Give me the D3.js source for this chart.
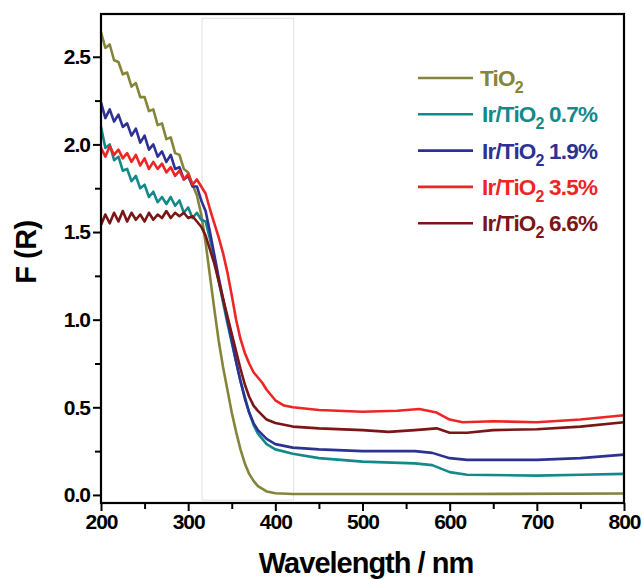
<!DOCTYPE html>
<html>
<head>
<meta charset="utf-8">
<script src="https://cdn.jsdelivr.net/npm/d3@7"></script>
<style>
  body { margin: 0; background: #fff; }
  text { font-family: "Liberation Sans", Arial, sans-serif; font-weight: bold; }
</style>
</head>
<body>
<svg id="chart" width="642" height="579"></svg>
<script>
// wavelength (nm) / F(R) values
var tio2 = [[200,2.64],[205,2.55],[210,2.57],[215,2.48],[220,2.47],[225,2.40],[230,2.41],[235,2.33],[240,2.35],[245,2.27],[250,2.27],[255,2.19],[260,2.20],[265,2.11],[270,2.12],[275,2.03],[280,2.04],[285,1.95],[290,1.94],[295,1.86],[300,1.84],[305,1.77],[310,1.71],[315,1.60],[320,1.44],[325,1.25],[330,1.06],[335,0.88],[340,0.73],[345,0.60],[350,0.47],[355,0.36],[360,0.26],[365,0.18],[370,0.12],[375,0.08],[380,0.05],[390,0.02],[400,0.01],[420,0.005],[600,0.005],[800,0.008]];
var ir07 = [[200,2.10],[205,1.98],[210,2.00],[215,1.91],[220,1.93],[225,1.85],[230,1.86],[235,1.79],[240,1.82],[245,1.75],[250,1.77],[255,1.70],[260,1.73],[265,1.67],[270,1.70],[275,1.66],[280,1.70],[285,1.65],[290,1.68],[295,1.61],[300,1.64],[305,1.58],[310,1.61],[315,1.57],[320,1.56],[325,1.46],[330,1.35],[335,1.22],[340,1.10],[345,0.98],[350,0.87],[355,0.76],[360,0.65],[365,0.56],[370,0.47],[375,0.40],[380,0.35],[390,0.29],[400,0.26],[420,0.235],[450,0.21],[500,0.19],[560,0.18],[580,0.17],[600,0.13],[620,0.115],[700,0.11],[750,0.115],[800,0.12]];
var ir19 = [[200,2.24],[205,2.15],[210,2.20],[215,2.13],[220,2.17],[225,2.10],[230,2.12],[235,2.05],[240,2.09],[245,2.01],[250,2.05],[255,1.97],[260,2.00],[265,1.93],[270,1.96],[275,1.90],[280,1.94],[285,1.86],[290,1.87],[295,1.80],[300,1.82],[305,1.76],[310,1.76],[315,1.68],[320,1.62],[325,1.50],[330,1.37],[335,1.24],[340,1.12],[345,1.00],[350,0.88],[355,0.76],[360,0.65],[365,0.55],[370,0.47],[375,0.41],[380,0.37],[390,0.32],[400,0.29],[420,0.27],[450,0.26],[500,0.25],[560,0.25],[580,0.24],[600,0.21],[620,0.20],[700,0.20],[750,0.21],[800,0.23]];
var ir35 = [[200,1.98],[205,1.93],[210,1.99],[215,1.94],[220,1.97],[225,1.92],[230,1.95],[235,1.90],[240,1.94],[245,1.88],[250,1.92],[255,1.86],[260,1.90],[265,1.86],[270,1.89],[275,1.84],[280,1.87],[285,1.82],[290,1.85],[295,1.80],[300,1.83],[305,1.77],[310,1.80],[315,1.76],[320,1.72],[325,1.63],[330,1.55],[335,1.47],[340,1.38],[345,1.27],[350,1.14],[355,1.00],[360,0.89],[365,0.81],[370,0.75],[375,0.70],[380,0.67],[385,0.64],[390,0.60],[400,0.54],[410,0.51],[420,0.50],[450,0.485],[500,0.475],[540,0.48],[565,0.49],[585,0.47],[600,0.43],[615,0.415],[650,0.42],[700,0.415],[750,0.43],[800,0.455]];
var ir66 = [[200,1.54],[205,1.60],[210,1.55],[215,1.61],[220,1.56],[225,1.62],[230,1.56],[235,1.61],[240,1.57],[245,1.60],[250,1.56],[255,1.61],[260,1.57],[265,1.60],[270,1.58],[275,1.62],[280,1.58],[285,1.61],[290,1.59],[295,1.61],[300,1.58],[305,1.59],[310,1.56],[315,1.53],[320,1.48],[325,1.40],[330,1.32],[335,1.22],[340,1.12],[345,1.02],[350,0.92],[355,0.82],[360,0.72],[365,0.63],[370,0.56],[375,0.51],[380,0.48],[390,0.43],[400,0.41],[420,0.39],[450,0.38],[500,0.37],[530,0.36],[560,0.37],[585,0.38],[600,0.355],[620,0.355],[650,0.37],[700,0.375],[750,0.39],[800,0.415]];

var seriesNames = ['TiO2', 'Ir/TiO2 0.7%', 'Ir/TiO2 1.9%', 'Ir/TiO2 3.5%', 'Ir/TiO2 6.6%'];
var seriesData = [tio2, ir07, ir19, ir35, ir66];
var seriesColors = ['#84843a', '#14898a', '#2d3193', '#ee2524', '#7b1516'];
var xTicks = [200, 300, 400, 500, 600, 700, 800];
var yTicks = [0.0, 0.5, 1.0, 1.5, 2.0, 2.5];
var highlight = [316, 421, -0.03, 2.72]; // faint box: x0, x1, y0, y1

var svg = d3.select('#chart');
var plotLeft = 101, plotRight = 624, plotTop = 14, plotBottom = 503;

var x = d3.scaleLinear().domain([200, 800]).range([plotLeft, plotRight]);
var y = d3.scaleLinear().domain([-0.046, 2.744]).range([plotBottom, plotTop]);

// faint box
svg.append('rect')
  .attr('x', x(highlight[0])).attr('y', y(highlight[3]))
  .attr('width', x(highlight[1]) - x(highlight[0]))
  .attr('height', y(highlight[2]) - y(highlight[3]))
  .attr('fill', 'none').attr('stroke', '#e2e2e2').attr('stroke-width', 1);

// curves
var line = d3.line().x(function(d) { return x(d[0]); }).y(function(d) { return y(d[1]); });
svg.append('g').selectAll('path').data(seriesData).enter().append('path')
  .attr('d', line)
  .attr('fill', 'none')
  .attr('stroke', function(d, i) { return seriesColors[i]; })
  .attr('stroke-width', 2.6)
  .attr('stroke-linejoin', 'round');

// axes
var xAxis = d3.axisBottom(x).tickValues(xTicks).tickSize(8).tickPadding(3).tickFormat(d3.format('d'));
var xMinor = d3.axisBottom(x).tickValues(d3.range(250, 800, 100)).tickSize(6).tickFormat('');
var yAxis = d3.axisLeft(y).tickValues(yTicks).tickSize(8).tickPadding(3).tickFormat(d3.format('.1f'));
var yMinor = d3.axisLeft(y).tickValues([0.25, 0.75, 1.25, 1.75, 2.25]).tickSize(6).tickFormat('');

function styleAxis(g) {
  g.select('.domain').remove();
  g.selectAll('line').attr('stroke', '#000').attr('stroke-width', 2);
  g.selectAll('text').attr('fill', '#000').style('font-size', '21px').style('letter-spacing', '-1px');
}
svg.append('g').attr('transform', 'translate(0,' + plotBottom + ')').call(xAxis).call(styleAxis);
svg.append('g').attr('transform', 'translate(0,' + plotBottom + ')').call(xMinor).call(styleAxis);
svg.append('g').attr('transform', 'translate(' + plotLeft + ',0)').call(yAxis).call(styleAxis);
svg.append('g').attr('transform', 'translate(' + plotLeft + ',0)').call(yMinor).call(styleAxis);

// frame
svg.append('rect')
  .attr('x', plotLeft).attr('y', plotTop)
  .attr('width', plotRight - plotLeft).attr('height', plotBottom - plotTop)
  .attr('fill', 'none').attr('stroke', '#000').attr('stroke-width', 2.2);

// axis titles
svg.append('text').attr('x', 366).attr('y', 573).attr('text-anchor', 'middle')
  .style('font-size', '29px').style('letter-spacing', '-1px').text('Wavelength / nm');
svg.append('text').attr('transform', 'translate(36,252) rotate(-90)').attr('text-anchor', 'middle')
  .style('font-size', '29px').style('letter-spacing', '-0.5px').text('F (R)');

// legend
var legend = svg.append('g').selectAll('g').data(seriesNames).enter().append('g')
  .attr('transform', function(d, i) { return 'translate(418,' + (78 + i * 36.3) + ')'; });
legend.append('line').attr('x1', 0).attr('x2', 55).attr('y1', 0).attr('y2', 0)
  .attr('stroke', function(d, i) { return seriesColors[i]; }).attr('stroke-width', 2.6);
legend.append('text')
  .attr('x', function(d, i) { return i === 0 ? 62 : 64; }).attr('y', 8)
  .attr('fill', function(d, i) { return seriesColors[i]; })
  .style('font-size', '22.5px').style('letter-spacing', '-0.8px')
  .each(function(d) {
    var t = d3.select(this);
    var parts = d.split('TiO2');
    t.append('tspan').text(parts[0] + 'TiO');
    t.append('tspan').attr('dy', 7).style('font-size', '16px').text('2');
    if (parts[1]) t.append('tspan').attr('dy', -7).text(parts[1]);
  });
</script>
</body>
</html>
